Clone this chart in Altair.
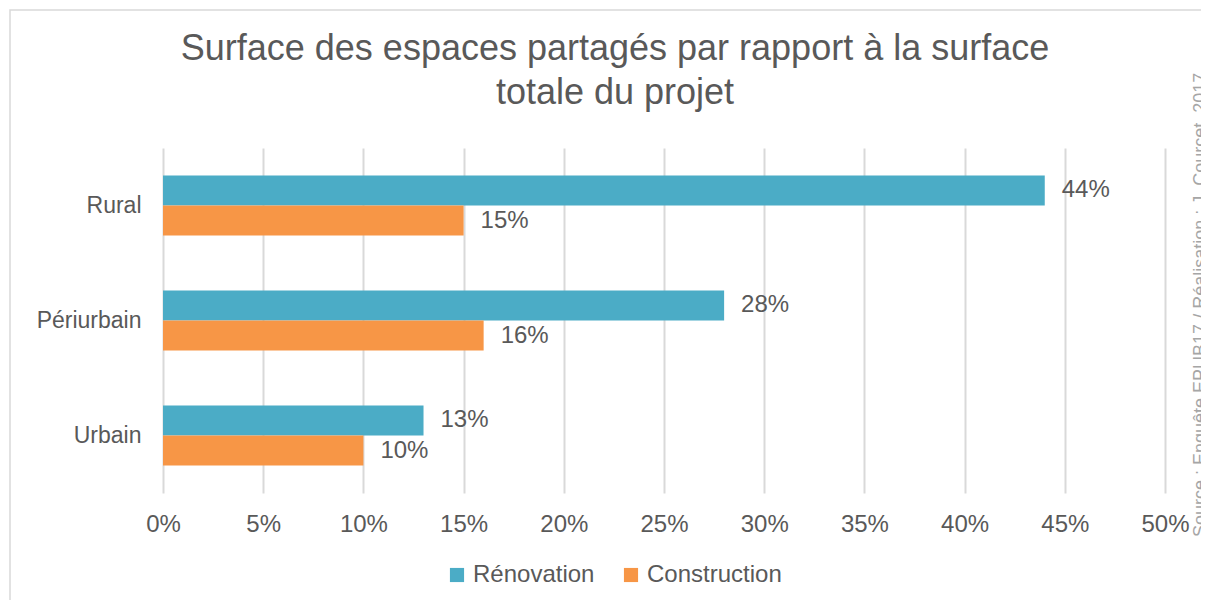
import altair as alt
import pandas as pd

categories = ["Rural", "Périurbain", "Urbain"]
series = ["Rénovation", "Construction"]
renovation = [44, 28, 13]
construction = [15, 16, 10]
x_ticks = [0, 5, 10, 15, 20, 25, 30, 35, 40, 45, 50]
title_lines = ["Surface des espaces partagés par rapport à la surface", "totale du projet"]
source_text = "Source : Enquête EPUB17 / Réalisation : J. Courcet, 2017"

rows = []
for c, r, k in zip(categories, renovation, construction):
    rows.append({"cat": c, "serie": series[0], "val": r, "lab": f"{r}%"})
    rows.append({"cat": c, "serie": series[1], "val": k, "lab": f"{k}%"})
df = pd.DataFrame(rows)

FONT = "Liberation Sans"
TXT = "#595959"
colors = ["#4BACC6", "#F79646"]

y_enc = alt.Y("cat:N", sort=categories, title=None,
              scale=alt.Scale(paddingInner=0.478, paddingOuter=0.239),
              axis=alt.Axis(labelFontSize=23, labelColor=TXT, labelFont=FONT,
                            ticks=False, domain=False, labelPadding=22, grid=False))
x_enc = alt.X("val:Q", title=None,
              scale=alt.Scale(domain=[0, 50]),
              axis=alt.Axis(values=x_ticks, labelExpr="datum.value + '%'",
                            labelFontSize=24, labelColor=TXT, labelFont=FONT,
                            labelFlush=False,
                            ticks=False, domain=False, labelPadding=19,
                            grid=True, gridColor="#D9D9D9", gridWidth=2))

base = alt.Chart(df).encode(
    y=y_enc,
    yOffset=alt.YOffset("serie:N", sort=series, scale=alt.Scale(paddingInner=0, paddingOuter=0)),
)

bars = base.mark_bar().encode(
    x=x_enc,
    color=alt.Color("serie:N", sort=series, title=None,
                    scale=alt.Scale(domain=series, range=colors),
                    legend=alt.Legend(orient="none", legendX=282, legendY=415,
                                      direction="horizontal", symbolType="square",
                                      symbolSize=200, symbolStrokeWidth=0,
                                      labelFontSize=24, labelColor=TXT, labelFont=FONT,
                                      columnPadding=24, labelOffset=4)),
)

labels = base.mark_text(align="left", baseline="middle", dx=17, fontSize=24,
                        color=TXT, font=FONT).encode(
    x="val:Q",
    text="lab:N",
)

frame = alt.Chart(pd.DataFrame({"a": [0]})).mark_rect(
    fill=None, stroke="#D9D9D9", strokeWidth=1.5
).encode(x=alt.value(-153), x2=alt.value(1052), y=alt.value(-138), y2=alt.value(467))

title = alt.Chart(pd.DataFrame({"a": [0]})).mark_text(
    text=title_lines, align="center", baseline="top", fontSize=36, font=FONT,
    color=TXT, lineHeight=44
).encode(x=alt.value(452), y=alt.value(-116))

source = alt.Chart(pd.DataFrame({"t": [source_text]})).mark_text(
    angle=270, align="left", baseline="top", fontSize=18, color="#A6A6A6", font=FONT
).encode(x=alt.value(1029), y=alt.value(389), text="t:N")

chart = alt.layer(frame, bars, labels, title, source).properties(
    width=1002, height=345,
    padding={"left": 155, "top": 140, "right": 36, "bottom": 107},
    autosize=alt.AutoSizeParams(type="none"),
).configure_view(stroke=None)

chart.save("out.html", embed_options={"renderer": "svg", "actions": False})
